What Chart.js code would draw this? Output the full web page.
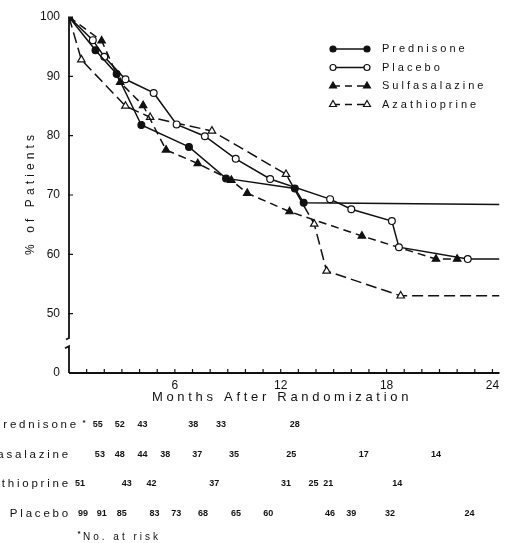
<!DOCTYPE html>
<html><head><meta charset="utf-8">
<script src="https://cdn.jsdelivr.net/npm/chart.js@4/dist/chart.umd.min.js"></script>
<style>html,body{margin:0;padding:0;background:#fff}#wrap{width:505px;height:543px;position:relative}</style>
</head><body><div id="wrap"><canvas id="c"></canvas></div>
<script>
// ---- data ----
const seriesNames = ['Prednisone', 'Placebo', 'Sulfasalazine', 'Azathioprine'];

const prednisoneMonths = [0, 1.5, 2.7, 4.1, 6.8, 8.9, 12.8, 13.3, 24.4];
const prednisonePct    = [100, 94.4, 90.4, 81.8, 78.1, 72.8, 71.1, 68.7, 68.4];

const placeboMonths = [0, 1.35, 2.0, 3.2, 4.8, 6.1, 7.7, 9.45, 11.4, 14.8, 16.0, 18.3, 18.7, 22.6, 24.4];
const placeboPct    = [100, 96.1, 93.3, 89.5, 87.2, 81.9, 79.9, 76.1, 72.7, 69.3, 67.6, 65.6, 61.2, 59.2, 59.2];

const sulfaMonths = [0, 1.85, 2.9, 4.2, 5.5, 7.3, 9.2, 10.1, 12.5, 16.6, 20.8, 22.0];
const sulfaPct    = [100, 96.0, 89.0, 85.1, 77.6, 75.3, 72.5, 70.3, 67.2, 63.1, 59.2, 59.2];

const azaMonths = [0, 0.7, 3.2, 4.6, 8.1, 12.3, 13.9, 14.6, 18.8, 24.4];
const azaPct    = [100, 92.8, 85.0, 83.1, 80.8, 73.5, 65.1, 57.2, 53.0, 53.0];

const xTickLabelMonths = [6, 12, 18, 24];
const yTickValues = [50, 60, 70, 80, 90, 100];
const yAxisFloor = 40;          // axis is broken: bottom of the axis stands for 0
const yAxisFloorLabel = '0';

// number at risk
const riskLabels = ['Prednisone', 'Sulfasalazine', 'Azathioprine', 'Placebo'];
const predRiskMonths = [1.63, 2.87, 4.17, 7.04, 8.62, 12.8];
const predRiskCounts = [55, 52, 43, 38, 33, 28];
const sulfaRiskMonths = [1.75, 2.87, 4.17, 5.46, 7.27, 9.35, 12.6, 16.7, 20.8];
const sulfaRiskCounts = [53, 48, 44, 38, 37, 35, 25, 17, 14];
const azaRiskMonths = [0.62, 3.27, 4.68, 8.23, 12.3, 13.86, 14.7, 18.6];
const azaRiskCounts = [51, 43, 42, 37, 31, 25, 21, 14];
const placeboRiskMonths = [0.79, 1.86, 2.99, 4.85, 6.08, 7.6, 9.46, 11.3, 14.8, 16.0, 18.2, 22.7];
const placeboRiskCounts = [99, 91, 85, 83, 73, 68, 65, 60, 46, 39, 32, 24];

// ---- chart ----
const INK = '#111';
const pts = (xs, ys) => xs.map((x, i) => ({x: x, y: ys[i]}));
const radiusFn = r => (c => (c.raw && c.raw.x >= 24 ? 0 : r));

const datasets = [
  {label: seriesNames[0], data: pts(prednisoneMonths, prednisonePct), borderDash: [],
   pointStyle: 'circle', pointRadius: radiusFn(3.4), pointBackgroundColor: INK},
  {label: seriesNames[1], data: pts(placeboMonths, placeboPct), borderDash: [],
   pointStyle: 'circle', pointRadius: radiusFn(3.4), pointBackgroundColor: '#fff'},
  {label: seriesNames[2], data: pts(sulfaMonths, sulfaPct), borderDash: [8, 5],
   pointStyle: 'triangle', pointRadius: radiusFn(4.3), pointBackgroundColor: INK},
  {label: seriesNames[3], data: pts(azaMonths, azaPct), borderDash: [11, 5],
   pointStyle: 'triangle', pointRadius: radiusFn(4.3), pointBackgroundColor: '#fff'}
].map(d => Object.assign({
  borderColor: INK, borderWidth: 1.5, tension: 0, fill: false,
  pointBorderColor: INK, pointBorderWidth: 1.2, pointHoverRadius: 0
}, d));

function drawMarker(ctx, style, filled, x, y, r) {
  ctx.save();
  ctx.setLineDash([]);
  ctx.lineWidth = 1.2;
  ctx.strokeStyle = INK;
  ctx.fillStyle = filled ? INK : '#fff';
  ctx.beginPath();
  if (style === 'circle') {
    ctx.arc(x, y, r, 0, Math.PI * 2);
  } else {
    ctx.moveTo(x, y - r);
    ctx.lineTo(x + r * 0.866, y + r * 0.5);
    ctx.lineTo(x - r * 0.866, y + r * 0.5);
    ctx.closePath();
  }
  ctx.fill();
  ctx.stroke();
  ctx.restore();
}

function spacedText(ctx, text, x, y, spacing, align) {
  ctx.save();
  ctx.letterSpacing = spacing + 'px';
  const w = ctx.measureText(text).width;
  let sx = x;
  if (align === 'right') sx = x - w;
  else if (align === 'center') sx = x - w / 2;
  ctx.textAlign = 'left';
  ctx.fillText(text, sx, y);
  ctx.restore();
}

const decor = {
  id: 'decor',
  afterDraw(chart) {
    const ctx = chart.ctx, ca = chart.chartArea;
    const xs = chart.scales.x, ys = chart.scales.y;
    ctx.save();
    ctx.strokeStyle = INK;
    ctx.fillStyle = INK;
    ctx.lineWidth = 1.8;
    ctx.setLineDash([]);
    // x axis
    ctx.beginPath();
    ctx.moveTo(ca.left, ca.bottom);
    ctx.lineTo(ca.right, ca.bottom);
    ctx.stroke();
    ctx.lineWidth = 1.2;
    ctx.beginPath();
    for (let m = 1; m <= 24; m++) {
      const px = xs.getPixelForValue(m);
      ctx.moveTo(px, ca.bottom);
      ctx.lineTo(px, ca.bottom - 4);
    }
    ctx.stroke();
    // y axis with break
    const yb1 = ys.getPixelForValue(45.9), yb2 = ys.getPixelForValue(44.5);
    ctx.lineWidth = 1.8;
    ctx.beginPath();
    ctx.moveTo(ca.left, ca.top);
    ctx.lineTo(ca.left, yb1);
    ctx.lineTo(ca.left - 3, yb1 + 1.5);
    ctx.moveTo(ca.left - 4, yb2 + 2);
    ctx.lineTo(ca.left, yb2);
    ctx.lineTo(ca.left, ca.bottom);
    ctx.stroke();
    ctx.lineWidth = 1.2;
    ctx.beginPath();
    yTickValues.forEach(v => {
      const py = ys.getPixelForValue(v);
      ctx.moveTo(ca.left - 1, py);
      ctx.lineTo(ca.left + 4, py);
    });
    ctx.stroke();

    // axis titles
    ctx.textBaseline = 'middle';
    ctx.font = '13px "Liberation Sans", Arial, sans-serif';
    spacedText(ctx, 'Months After Randomization', 282, 397, 3.7, 'center');
    ctx.save();
    ctx.translate(31, 193);
    ctx.rotate(-Math.PI / 2);
    ctx.font = '12px "Liberation Sans", Arial, sans-serif';
    spacedText(ctx, '% of Patients', 0, 0, 4.1, 'center');
    ctx.restore();

    // legend
    ctx.font = '11px "Liberation Sans", Arial, sans-serif';
    chart.data.datasets.forEach((ds, i) => {
      const y = 49 + i * 18.5;
      ctx.save();
      ctx.lineWidth = 1.5;
      ctx.setLineDash(ds.borderDash.length ? [7, 5] : []);
      ctx.beginPath();
      ctx.moveTo(333, y);
      ctx.lineTo(367, y);
      ctx.stroke();
      ctx.restore();
      const filled = ds.pointBackgroundColor !== '#fff';
      const r = ds.pointStyle === 'circle' ? 3 : 4;
      drawMarker(ctx, ds.pointStyle, filled, 333, y, r);
      drawMarker(ctx, ds.pointStyle, filled, 367, y, r);
      spacedText(ctx, ds.label, 382, y, 3, 'left');
    });

    // number at risk table
    const rows = [
      {months: predRiskMonths, counts: predRiskCounts, y: 425, right: 79},
      {months: sulfaRiskMonths, counts: sulfaRiskCounts, y: 455, right: 71},
      {months: azaRiskMonths, counts: azaRiskCounts, y: 484, right: 71},
      {months: placeboRiskMonths, counts: placeboRiskCounts, y: 514, right: 71}
    ];
    rows.forEach((row, i) => {
      ctx.font = '11.5px "Liberation Sans", Arial, sans-serif';
      spacedText(ctx, riskLabels[i], row.right, row.y, 2.8, 'right');
      ctx.font = 'bold 9px "Liberation Sans Narrow", "Liberation Sans", Arial, sans-serif';
      ctx.textAlign = 'center';
      row.months.forEach((m, j) => {
        ctx.fillText(String(row.counts[j]), xs.getPixelForValue(m), row.y);
      });
    });
    ctx.font = 'bold 8px "Liberation Sans", Arial, sans-serif';
    ctx.textAlign = 'center';
    ctx.fillText('*', 84, 423);
    ctx.fillText('*', 79, 534);
    ctx.font = '10px "Liberation Sans", Arial, sans-serif';
    spacedText(ctx, 'No. at risk', 83, 537, 3, 'left');
    ctx.restore();
  }
};

new Chart(document.getElementById('c'), {
  type: 'line',
  data: {datasets: datasets},
  options: {
    responsive: true,
    maintainAspectRatio: false,
    animation: false,
    devicePixelRatio: 1,
    layout: {padding: {top: 17, right: 3, left: 0, bottom: 138}},
    plugins: {legend: {display: false}, tooltip: {enabled: false}},
    events: [],
    scales: {
      x: {
        type: 'linear', min: 0, max: 24.4,
        grid: {display: false, drawTicks: false}, border: {display: false},
        afterFit: s => { s.height = 32; },
        afterBuildTicks: s => { s.ticks = Array.from({length: 25}, (_, i) => ({value: i})); },
        ticks: {
          autoSkip: false, maxRotation: 0, padding: 5, color: INK,
          font: {family: '"Liberation Sans", Arial, sans-serif', size: 12},
          callback: v => (xTickLabelMonths.includes(v) ? String(v) : '')
        }
      },
      y: {
        type: 'linear', min: yAxisFloor, max: 100,
        grid: {display: false, drawTicks: false}, border: {display: false},
        afterFit: s => { s.width = 69; },
        ticks: {
          stepSize: 10, padding: 9, color: INK,
          font: {family: '"Liberation Sans", Arial, sans-serif', size: 12},
          callback: v => (v === yAxisFloor ? yAxisFloorLabel : String(v))
        }
      }
    }
  },
  plugins: [decor]
});
</script>
</body></html>
